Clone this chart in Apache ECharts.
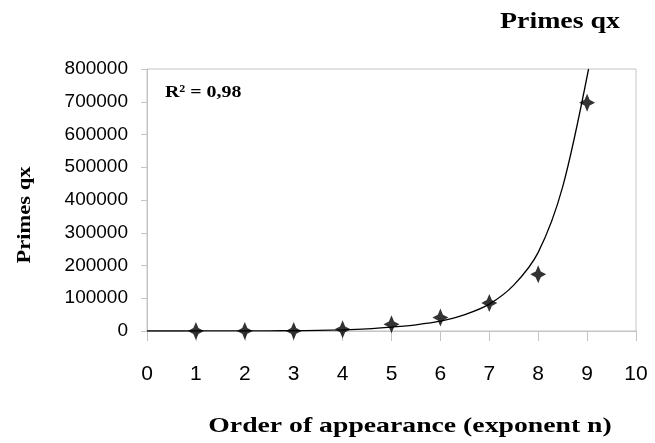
<!DOCTYPE html>
<html>
<head>
<meta charset="utf-8">
<script src="https://cdn.jsdelivr.net/npm/echarts@6/dist/echarts.min.js"></script>
<style>html,body{margin:0;padding:0;background:#fff}#c{width:655px;height:443px}</style>
</head>
<body>
<div id="c"></div>
<script>
// Data
var exponents = [1, 2, 3, 4, 5, 6, 7, 8, 9];
var primesQx = [5, 30, 200, 5000, 20500, 41000, 85500, 173000, 697000];
// Trend curve (x, y)
var trendX = [0, 0.5, 1, 1.5, 2, 2.5, 3, 3.5, 4, 4.5, 5, 5.5, 6, 6.5, 7, 7.5, 8, 8.5, 9.03];
var trendY = [0, 50, 100, 200, 300, 500, 1000, 2000, 3500, 6500, 12000, 19000, 30000, 50000, 82000, 140000, 240000, 440000, 800000];
var xTicks = [0, 1, 2, 3, 4, 5, 6, 7, 8, 9, 10];
var yTicks = [0, 100000, 200000, 300000, 400000, 500000, 600000, 700000, 800000];

var starPath = 'path://M10,0 L13.2,6.8 L20,10 L13.2,13.2 L10,20 L6.8,13.2 L0,10 L6.8,6.8 Z';
var serif = '"Liberation Serif", "Times New Roman", serif';
var sans = '"Liberation Sans", Arial, sans-serif';

var chart = echarts.init(document.getElementById('c'), null, {renderer: 'canvas'});
chart.setOption({
  animation: false,
  backgroundColor: '#fff',
  grid: {left: 147, top: 69, width: 489, height: 262, show: true, borderColor: '#c4c4c4', borderWidth: 1, containLabel: false},
  xAxis: {
    type: 'value', min: xTicks[0], max: xTicks[xTicks.length - 1], interval: 1,
    axisLine: {show: true, onZero: false, lineStyle: {color: '#c4c4c4', width: 1}},
    axisTick: {show: true, inside: false, length: 10, lineStyle: {color: '#c4c4c4'}},
    splitLine: {show: false},
    axisLabel: {color: '#000', fontFamily: sans, fontSize: 21, margin: 33}
  },
  yAxis: {
    type: 'value', min: yTicks[0], max: yTicks[yTicks.length - 1], interval: 100000,
    axisLine: {show: true, lineStyle: {color: '#c4c4c4', width: 1}},
    axisTick: {show: true, inside: false, length: 6, lineStyle: {color: '#c4c4c4'}},
    splitLine: {show: false},
    axisLabel: {color: '#000', fontFamily: sans, fontSize: 19, margin: 19, formatter: function (v) { return String(v); }}
  },
  series: [
    {
      type: 'line', smooth: 0.3, showSymbol: false, symbol: 'none',
      data: trendX.map(function (x, i) { return [x, trendY[i]]; }),
      lineStyle: {color: '#000', width: 1.3}, z: 3, silent: true
    },
    {
      type: 'scatter', symbol: starPath, symbolSize: [16, 18],
      data: exponents.map(function (x, i) { return [x, primesQx[i]]; }),
      itemStyle: {color: '#000'}, z: 4
    }
  ],
  graphic: [
    {type: 'text', x: 560, y: 22, scaleX: 1.16, style: {text: 'Primes qx', font: 'bold 24px ' + serif, fill: '#000', align: 'center', verticalAlign: 'middle'}},
    {type: 'text', x: 165, y: 93, scaleX: 1.17, style: {text: 'R² = 0,98', font: 'bold 17px ' + serif, fill: '#000', align: 'left', verticalAlign: 'middle'}},
    {type: 'text', x: 25, y: 215, rotation: Math.PI / 2, scaleX: 1.25, style: {text: 'Primes qx', font: 'bold 18px ' + serif, fill: '#000', align: 'center', verticalAlign: 'middle'}},
    {type: 'text', x: 410, y: 426, scaleX: 1.26, style: {text: 'Order of appearance (exponent n)', font: 'bold 22px ' + serif, fill: '#000', align: 'center', verticalAlign: 'middle'}}
  ]
});
</script>
</body>
</html>
